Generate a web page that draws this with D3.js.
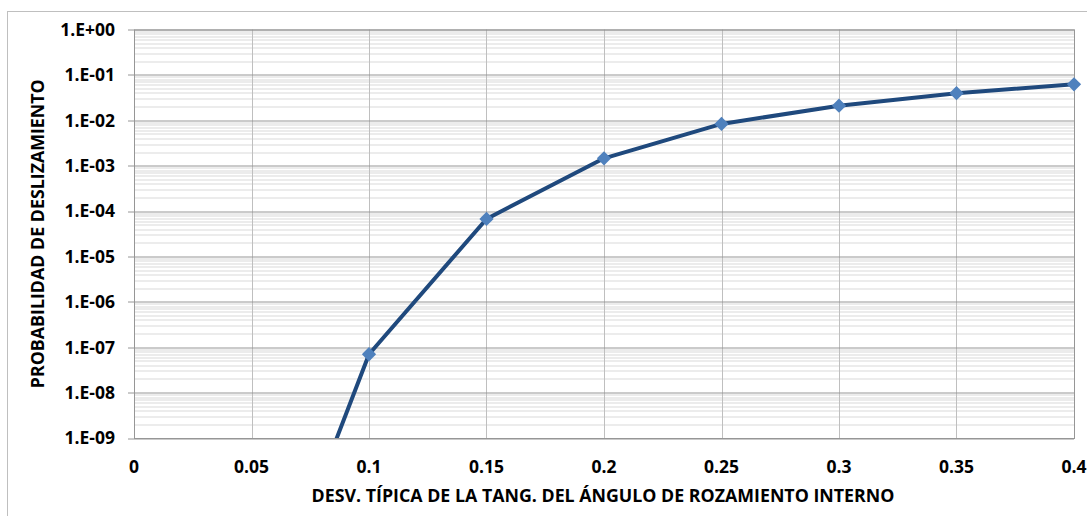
<!DOCTYPE html>
<html>
<head>
<meta charset="utf-8">
<script src="https://cdn.jsdelivr.net/npm/d3@7"></script>
<style>
  body { margin: 0; background: #fff; }
  svg text { font-family: "Open Sans", Lato, sans-serif; font-weight: bold; fill: #000; }
</style>
</head>
<body>
<div id="chart"></div>
<script>
// datos
const desv = [0.05, 0.1, 0.15, 0.2, 0.25, 0.3, 0.35, 0.4]
const prob = [1.3e-14, 7.0e-8, 6.7e-5, 1.45e-3, 8.3e-3, 2.1e-2, 3.95e-2, 6.2e-2]
const xTicks = [0, 0.05, 0.1, 0.15, 0.2, 0.25, 0.3, 0.35, 0.4]
const yTicks = [1e0, 1e-1, 1e-2, 1e-3, 1e-4, 1e-5, 1e-6, 1e-7, 1e-8, 1e-9]
const xTitle = "DESV. TÍPICA DE LA TANG. DEL ÁNGULO DE ROZAMIENTO INTERNO"
const yTitle = "PROBABILIDAD DE DESLIZAMIENTO"

const W = 1087, H = 516
const margin = { top: 29.5, right: 13, bottom: 78, left: 134 }
const width = W - margin.left - margin.right
const height = H - margin.top - margin.bottom

const svg = d3.select("#chart").append("svg")
  .attr("width", W).attr("height", H)

// marco exterior
svg.append("rect")
  .attr("x", 7.5).attr("y", 11.5)
  .attr("width", W + 10).attr("height", H + 10)
  .attr("fill", "none").attr("stroke", "#bfbfbf")

const g = svg.append("g")
  .attr("transform", "translate(" + margin.left + "," + margin.top + ")")

const x = d3.scaleLinear().domain([0, 0.4]).range([0, width])
const y = d3.scaleLog().domain([1e-9, 1]).range([height, 0])

// lineas menores
const minor = []
yTicks.slice(1).forEach(d => { for (let k = 2; k <= 9; k++) minor.push(d * k) })
g.append("g").selectAll("line").data(minor).join("line")
  .attr("x1", 0).attr("x2", width)
  .attr("y1", d => Math.round(y(d)) + 0.5).attr("y2", d => Math.round(y(d)) + 0.5)
  .attr("stroke", "#d9d9d9")

// lineas verticales
g.append("g").selectAll("line").data(xTicks).join("line")
  .attr("x1", d => Math.round(x(d)) + 0.5).attr("x2", d => Math.round(x(d)) + 0.5)
  .attr("y1", 0).attr("y2", height)
  .attr("stroke", "#bfbfbf")

// lineas principales
g.append("g").selectAll("line").data(yTicks).join("line")
  .attr("x1", -6).attr("x2", width)
  .attr("y1", d => Math.round(y(d)) + 0.5).attr("y2", d => Math.round(y(d)) + 0.5)
  .attr("stroke", "#969696")

// borde del area
g.append("rect")
  .attr("x", 0.5).attr("y", 0.5).attr("width", width).attr("height", height)
  .attr("fill", "none").attr("stroke", "#969696")

// etiquetas eje Y
g.append("g").selectAll("text").data(yTicks).join("text")
  .attr("x", -19).attr("y", d => y(d))
  .attr("dy", "0.36em").attr("text-anchor", "end")
  .style("font-size", "17.5px")
  .text(d => "1.E" + (d >= 1 ? "+00" : "-" + String(-Math.round(Math.log10(d))).padStart(2, "0")))

// etiquetas eje X
g.append("g").selectAll("text").data(xTicks).join("text")
  .attr("x", d => x(d)).attr("y", height + 35)
  .attr("text-anchor", "middle")
  .style("font-size", "17.5px")
  .text(d => d)

// titulos
svg.append("text")
  .attr("x", margin.left + width / 2 - 1).attr("y", 502)
  .attr("text-anchor", "middle").style("font-size", "17.8px")
  .text(xTitle)
svg.append("text")
  .attr("transform", "translate(44," + (margin.top + height / 2) + ") rotate(-90)")
  .attr("text-anchor", "middle").style("font-size", "17.8px")
  .text(yTitle)

// recorte
g.append("clipPath").attr("id", "clip")
  .append("rect").attr("width", width + 10).attr("height", height + 10).attr("y", -10)

const data = desv.map((d, i) => ({ x: d, y: prob[i] }))

g.append("path")
  .datum(data)
  .attr("clip-path", "url(#clip)")
  .attr("fill", "none")
  .attr("stroke", "#1f497d")
  .attr("stroke-width", 4)
  .attr("stroke-linejoin", "round")
  .attr("d", d3.line().x(d => x(d.x)).y(d => y(d.y)))

g.append("g").selectAll("path").data(data.filter(d => d.y >= 1e-9)).join("path")
  .attr("transform", d => "translate(" + x(d.x) + "," + y(d.y) + ")")
  .attr("d", d3.symbol().type(d3.symbolDiamond2).size(130))
  .attr("fill", "#4f81bd")
</script>
</body>
</html>
